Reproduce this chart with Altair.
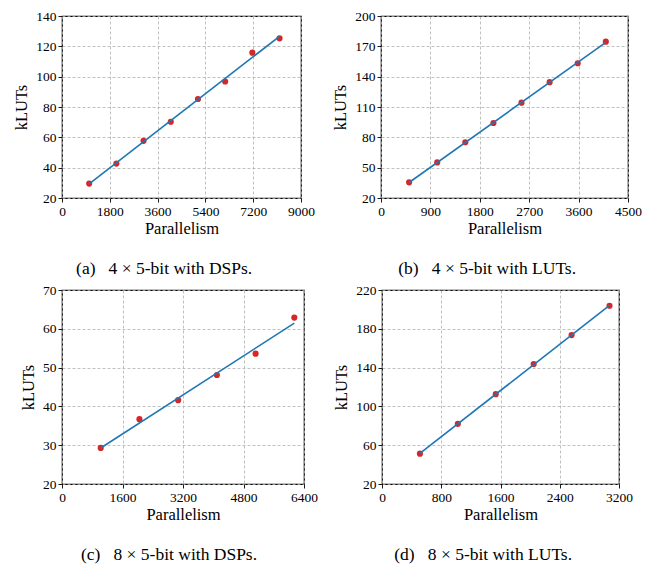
import altair as alt
import pandas as pd

FONT = "Liberation Serif"

# Panel (a): 4 x 5-bit with DSPs
a_x = [1024, 2048, 3072, 4096, 5120, 6144, 7168, 8192]
a_y = [29.5, 42.7, 57.7, 70.3, 85.3, 96.8, 115.8, 125.3]
# Panel (b): 4 x 5-bit with LUTs
b_x = [512, 1024, 1536, 2048, 2560, 3072, 3584, 4096]
b_y = [35.5, 55.2, 75.1, 94.2, 114.3, 134.6, 153.3, 174.6]
# Panel (c): 8 x 5-bit with DSPs
c_x = [1024, 2048, 3072, 4096, 5120, 6144]
c_y = [29.3, 36.7, 41.6, 48.1, 53.6, 62.9]
# Panel (d): 8 x 5-bit with LUTs
d_x = [512, 1024, 1536, 2048, 2560, 3072]
d_y = [51.3, 82.0, 112.6, 143.6, 173.5, 203.8]

captions = [
    "(a)\u2002 4 \u00d7 5-bit with DSPs.",
    "(b)\u2002 4 \u00d7 5-bit with LUTs.",
    "(c)\u2002 8 \u00d7 5-bit with DSPs.",
    "(d)\u2002 8 \u00d7 5-bit with LUTs.",
]

x_ticks_a = [0, 1800, 3600, 5400, 7200, 9000]
y_ticks_a = [20, 40, 60, 80, 100, 120, 140]
x_ticks_b = [0, 900, 1800, 2700, 3600, 4500]
y_ticks_b = [20, 50, 80, 110, 140, 170, 200]
x_ticks_c = [0, 1600, 3200, 4800, 6400]
y_ticks_c = [20, 30, 40, 50, 60, 70]
x_ticks_d = [0, 800, 1600, 2400, 3200]
y_ticks_d = [20, 60, 100, 140, 180, 220]

AXIS_STYLE = dict(
    format="d",
    labelFlush=False,
    domain=False,
    grid=True,
    gridColor="#b0b0b0",
    gridDash=[3, 2],
    gridWidth=0.8,
    tickColor="black",
    tickSize=4,
    tickWidth=0.9,
    labelFont=FONT,
    labelFontSize=13.5,
    labelColor="black",
    labelPadding=2,
    titleFont=FONT,
    titleFontSize=16.5,
    titleFontWeight="normal",
    titleColor="black",
)


def panel(xs, ys, xt, yt, caption, w, h):
    df = pd.DataFrame({"x": xs, "y": ys})
    base = alt.Chart(df)
    xenc = alt.X(
        "x:Q",
        scale=alt.Scale(domain=[xt[0], xt[-1]], nice=False, zero=False),
        axis=alt.Axis(values=xt, title="Parallelism", titlePadding=3, **AXIS_STYLE),
    )
    yenc = alt.Y(
        "y:Q",
        scale=alt.Scale(domain=[yt[0], yt[-1]], nice=False, zero=False),
        axis=alt.Axis(values=yt, title="kLUTs", titlePadding=6, **AXIS_STYLE),
    )
    pts = base.mark_circle(color="#d62728", size=38, opacity=1).encode(x=xenc, y=yenc)
    line = (
        base.transform_regression("x", "y")
        .mark_line(color="#1f77b4", strokeWidth=1.6)
        .encode(x=xenc, y=yenc)
    )
    return alt.layer(pts, line).properties(
        width=w,
        height=h,
        title=alt.TitleParams(
            caption, orient="bottom", offset=23, frame="bounds", anchor="middle",
            font=FONT, fontSize=17.5, fontWeight="normal", color="black",
        ),
    )


pa = panel(a_x, a_y, x_ticks_a, y_ticks_a, captions[0], 239, 182)
pb = panel(b_x, b_y, x_ticks_b, y_ticks_b, captions[1], 247, 182)
pc = panel(c_x, c_y, x_ticks_c, y_ticks_c, captions[2], 242, 194)
pd_ = panel(d_x, d_y, x_ticks_d, y_ticks_d, captions[3], 237, 194)

top = alt.hconcat(pa, pb, spacing=16)
bottom = alt.hconcat(pc, pd_, spacing=14)

chart = (
    alt.vconcat(top, bottom, spacing=3)
    .properties(padding={"left": 5, "top": 0, "right": 0, "bottom": 0})
    .configure(font=FONT)
    .configure_view(stroke="black", strokeWidth=1.2)
)

chart.save("out.html", embed_options={"renderer": "svg", "actions": False})
